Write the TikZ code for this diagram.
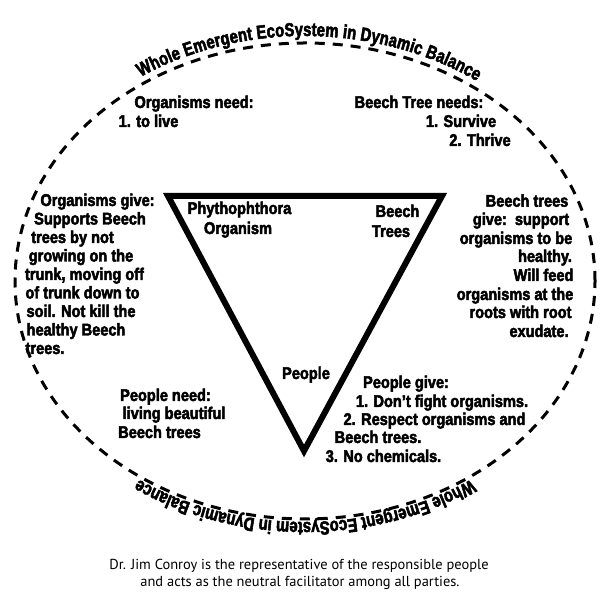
\documentclass[tikz,border=0pt]{standalone}
\usepackage{fontspec}
\setmainfont{PT Sans}
\newfontfamily\condb{Liberation Sans}[FakeStretch=0.86, FakeBold=2.8]
\newfontfamily\arcf{Liberation Sans}[FakeStretch=0.78, FakeBold=2.8]
\newfontfamily\capfont{PT Sans}
\usetikzlibrary{decorations.text}
\tikzset{
  lbl/.style={font=\condb\bfseries\fontsize{17}{18.6}\selectfont, inner sep=0pt, anchor=base},
  capt/.style={font=\capfont\fontsize{14.5}{17}\selectfont, inner sep=0pt, anchor=base},
  dashline/.style={line width=3bp, dash pattern=on 10bp off 8bp},
  tri/.style={line width=6bp, line join=miter},
  arctext/.style={decorate, decoration={text along path, text align=center, raise=#1,
     text={|\arcf\bfseries\fontsize{19}{19}\selectfont|Whole Emergent EcoSystem in Dynamic Balance}}}
}
\begin{document}
\begin{tikzpicture}[x=1bp,y=1bp]
\useasboundingbox (0,0) rectangle (600,600);
\fill[white] (0,0) rectangle (600,600);
% ellipse
\coordinate (c) at (305,319);
\draw[dashline] (c) ellipse [x radius=290, y radius=238];
\path[arctext=7bp] (c) ++(170:290 and 238) arc[start angle=170, end angle=8, x radius=290, y radius=238];
\path[arctext=3bp] (c) ++(-8:290 and 238) arc[start angle=-8, end angle=-172, x radius=290, y radius=238];
% triangle
\coordinate (tl) at (168,404);
\coordinate (tr) at (442,404);
\coordinate (ap) at (304,149);
\draw[tri] (tl) -- (tr) -- (ap) -- cycle;
% triangle labels
\node[lbl] (ph1) at (239.5,386) {Phythophthora};
\node[lbl] (ph2) at (238,366) {Organism};
\node[lbl] (bt1) at (397.5,383) {Beech};
\node[lbl] (bt2) at (391,363) {Trees};
\node[lbl] (pp) at (306,221) {People};
% organisms need
\node[lbl] (on1) at (194,492) {Organisms need:};
\node[lbl] (on2) at (148.5,473) {1. to live};
% beech tree needs
\node[lbl] (bn1) at (419,492) {Beech Tree needs:};
\node[lbl] (bn2) at (461,473) {1. Survive};
\node[lbl] (bn3) at (480,454) {2. Thrive};
% organisms give
\node[lbl] (og1) at (97.5,394) {Organisms give:};
\node[lbl] (og2) at (90,375.5) {Supports Beech};
\node[lbl] (og3) at (72.5,357) {trees by not};
\node[lbl] (og4) at (81,338.5) {growing on the};
\node[lbl] (og5) at (84.5,320) {trunk, moving off};
\node[lbl] (og6) at (82.5,301.5) {of trunk down to};
\node[lbl] (og7) at (81,283) {soil. Not kill the};
\node[lbl] (og8) at (76,264.5) {healthy Beech};
\node[lbl] (og9) at (45,246) {trees.};
% beech trees give
\node[lbl] (bg1) at (527,393.3) {Beech trees};
\node[lbl] (bg2) at (521,375) {give:\ \ support};
\node[lbl] (bg3) at (516,356) {organisms to be};
\node[lbl] (bg4) at (545,338) {healthy.};
\node[lbl] (bg5) at (543.5,319) {Will feed};
\node[lbl] (bg6) at (515,300) {organisms at the};
\node[lbl] (bg7) at (520.5,282) {roots with root};
\node[lbl] (bg8) at (539,263) {exudate.};
% people need
\node[lbl] (pn1) at (165.5,199) {People need:};
\node[lbl] (pn2) at (174,181) {living beautiful};
\node[lbl] (pn3) at (159.5,162) {Beech trees};
% people give
\node[lbl] (pg1) at (406,212) {People give:};
\node[lbl] (pg2) at (442,193) {1. Don’t fight organisms.};
\node[lbl] (pg3) at (434.5,175) {2. Respect organisms and};
\node[lbl] (pg4) at (378,157) {Beech trees.};
\node[lbl] (pg5) at (383.5,138) {3. No chemicals.};
% caption
\node[capt] (cap1) at (299,30) {Dr. Jim Conroy is the representative of the responsible people};
\node[capt] (cap2) at (300,13) {and acts as the neutral facilitator among all parties.};
\end{tikzpicture}
\end{document}
